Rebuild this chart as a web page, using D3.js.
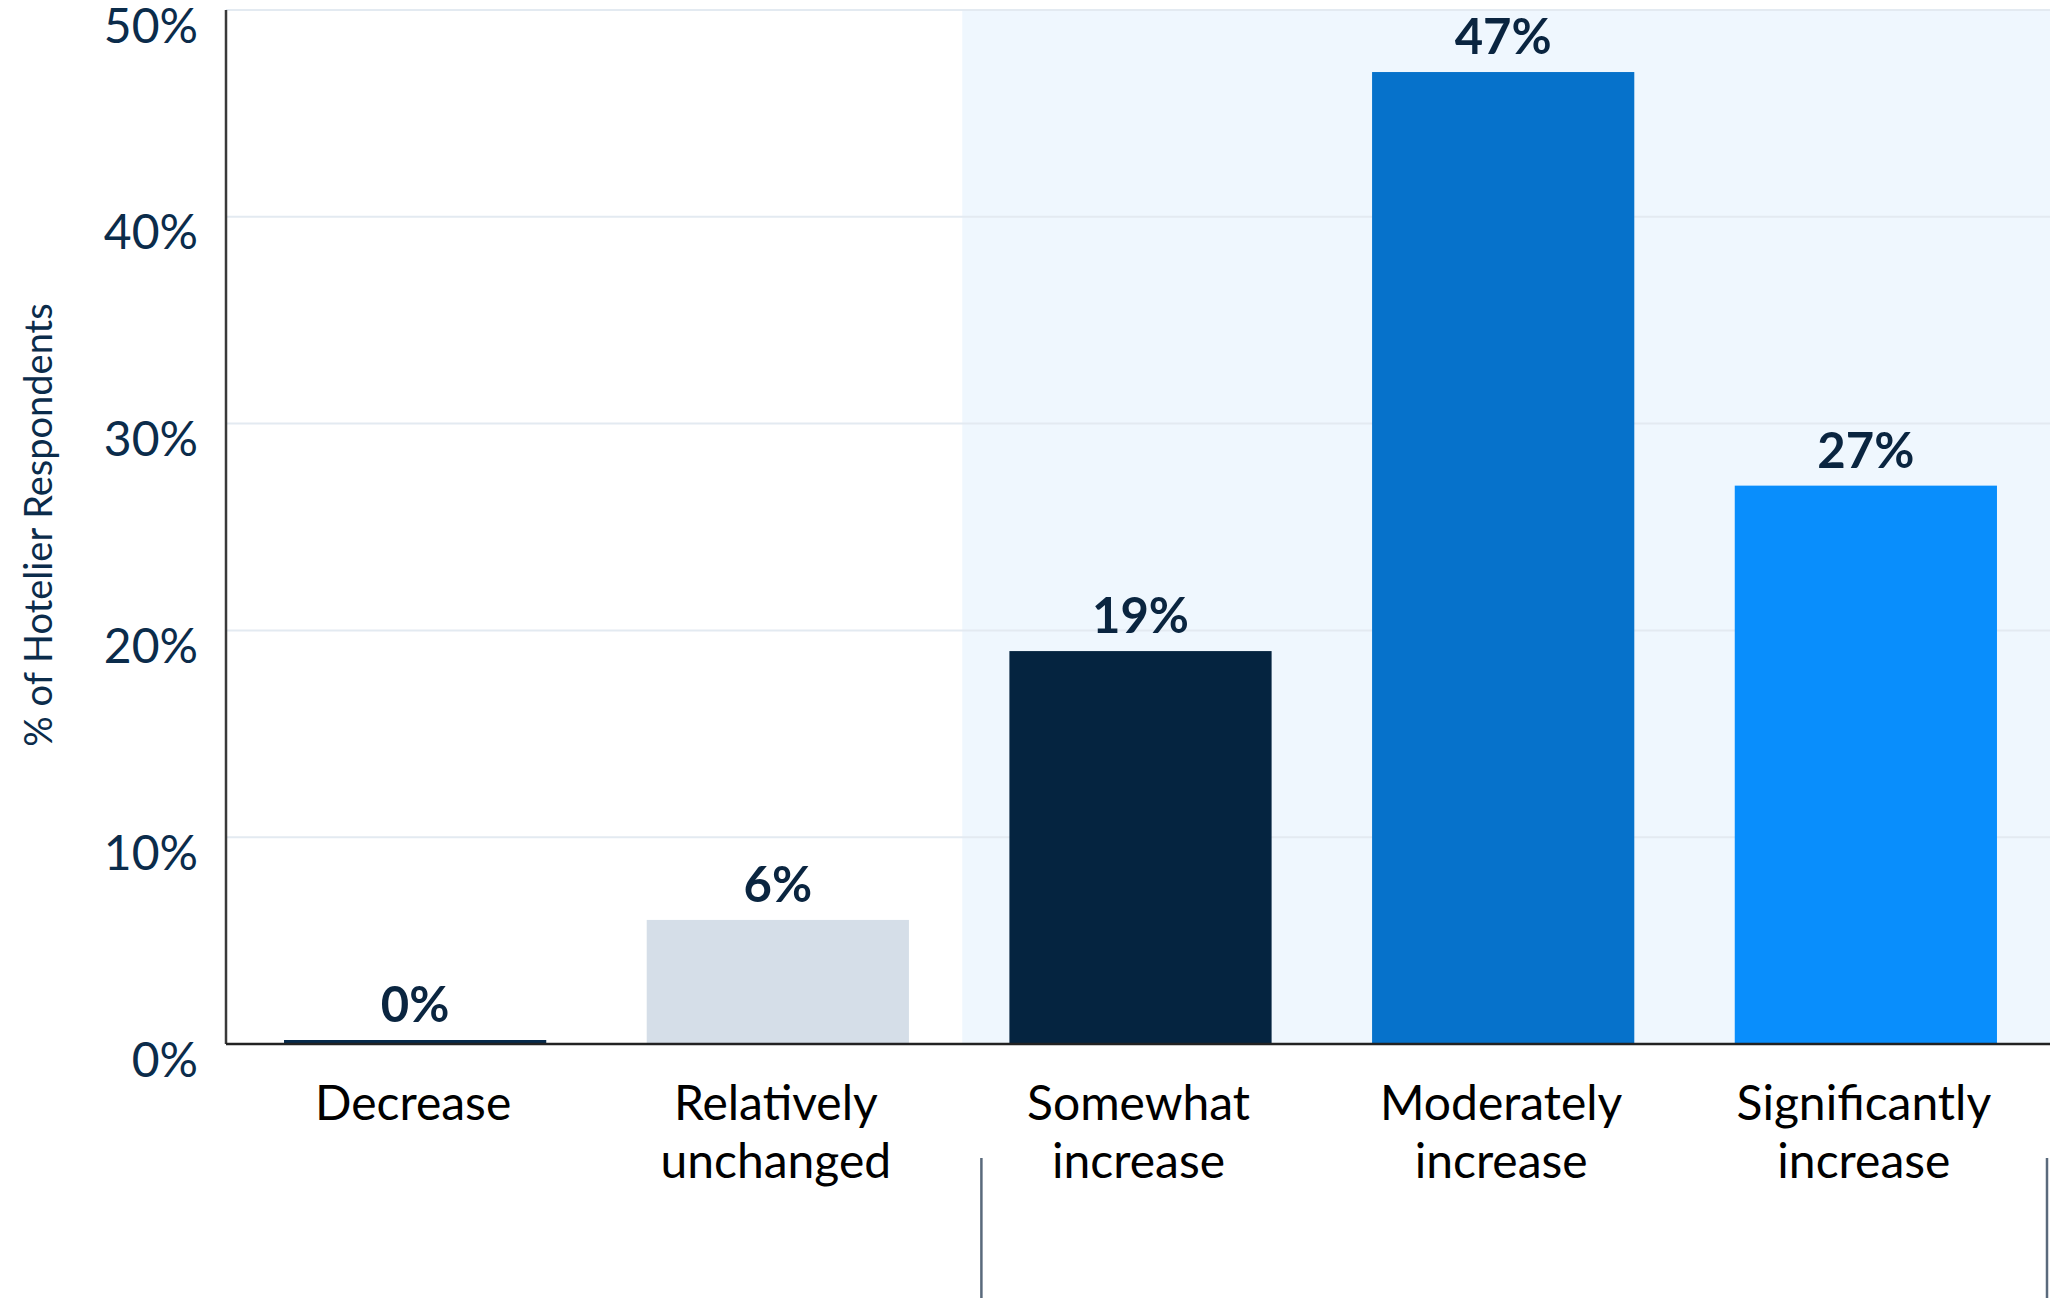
<!DOCTYPE html>
<html>
<head>
<meta charset="utf-8">
<script src="https://cdn.jsdelivr.net/npm/d3@7"></script>
<style>
  html, body { margin: 0; padding: 0; background: #ffffff; }
  svg { display: block; font-family: Lato, "Open Sans", sans-serif; }
</style>
</head>
<body>
<svg id="chart" width="2050" height="1298"></svg>
<script>
// ---- data ----
const categories = [
  ["Decrease"],
  ["Relatively", "unchanged"],
  ["Somewhat", "increase"],
  ["Moderately", "increase"],
  ["Significantly", "increase"]
];
const values = [0, 6, 19, 47, 27];
const barColors = ["#062a4b", "#d5dee8", "#052440", "#0672cb", "#098efc"];
const yTicks = [0, 10, 20, 30, 40, 50];
const yTitle = "% of Hotelier Respondents";
const highlightFrom = 2; // first category of the shaded "increase" group

// ---- layout ----
const W = 2050, H = 1298;
const mLeft = 226, mRight = 2055, mTop = 10, mBottom = 1044;
const svg = d3.select("#chart");

const keys = categories.map(d => d.join(" "));
const x = d3.scaleBand().domain(keys).range([mLeft, mRight])
  .paddingInner(0.277).paddingOuter(0.16);
const y = d3.scaleLinear().domain([0, 50]).range([mBottom, mTop]);

// shaded background for increase group
const hx = x(keys[highlightFrom]) - x.step() * 0.13;
svg.append("rect")
  .attr("x", hx).attr("y", y(50))
  .attr("width", W - hx).attr("height", y(0) - y(50))
  .attr("fill", "#eff7fe");

// gridlines
svg.append("g").selectAll("line")
  .data(yTicks.filter(t => t > 0))
  .join("line")
  .attr("x1", mLeft).attr("x2", W)
  .attr("y1", d => y(d)).attr("y2", d => y(d))
  .attr("stroke", "#e3eaf1").attr("stroke-width", 2);

// bars
svg.append("g").selectAll("rect")
  .data(values)
  .join("rect")
  .attr("x", (d, i) => x(keys[i]))
  .attr("width", x.bandwidth())
  .attr("y", d => Math.min(y(d), y(0) - 4))
  .attr("height", d => Math.max(y(0) - y(d), 4))
  .attr("fill", (d, i) => barColors[i]);

// value labels
svg.append("g").selectAll("text")
  .data(values)
  .join("text")
  .attr("x", (d, i) => x(keys[i]) + x.bandwidth() / 2)
  .attr("y", d => Math.min(y(d), y(0) - 4) - 18)
  .attr("text-anchor", "middle")
  .attr("font-size", 49).attr("font-weight", 700)
  .attr("fill", "#0a2540")
  .text(d => d + "%");

// y axis
const yAxis = d3.axisLeft(y).tickValues(yTicks).tickSize(0).tickPadding(28)
  .tickFormat(d => d + "%");
const gy = svg.append("g").attr("transform", `translate(${mLeft},0)`).call(yAxis);
gy.select(".domain").remove();
gy.selectAll("text")
  .attr("font-family", "Lato, sans-serif")
  .attr("font-size", 48)
  .attr("fill", "#0b2c4b")
  .attr("dy", "0.67em");

// axis lines
svg.append("line")
  .attr("x1", mLeft).attr("x2", mLeft).attr("y1", y(50)).attr("y2", y(0))
  .attr("stroke", "#3a3a3a").attr("stroke-width", 2.5);
svg.append("line")
  .attr("x1", mLeft).attr("x2", W).attr("y1", y(0)).attr("y2", y(0))
  .attr("stroke", "#222222").attr("stroke-width", 2.5);

// category labels
const cat = svg.append("g").selectAll("text")
  .data(categories)
  .join("text")
  .attr("x", (d, i) => x(keys[i]) + x.bandwidth() / 2 - 2)
  .attr("y", 1120)
  .attr("text-anchor", "middle")
  .attr("font-size", 48)
  .attr("fill", "#000000");
cat.selectAll("tspan")
  .data(d => d)
  .join("tspan")
  .attr("x", function () { return d3.select(this.parentNode).attr("x"); })
  .attr("dy", (d, i) => i === 0 ? 0 : 58)
  .text(d => d);

// y title
svg.append("text")
  .attr("transform", `translate(${mLeft - 174},${(y(0) + y(50)) / 2 - 2}) rotate(-90)`)
  .attr("text-anchor", "middle")
  .attr("font-size", 38)
  .attr("fill", "#0b2c4b")
  .text(yTitle);

// bracket lines below the increase group (cut off at bottom)
const bx1 = x(keys[highlightFrom]) - 28;
const bx2 = W - 3;
[bx1, bx2].forEach(bx => {
  svg.append("line")
    .attr("x1", bx).attr("x2", bx).attr("y1", 1158).attr("y2", H)
    .attr("stroke", "#5a6a7c").attr("stroke-width", 2.5);
});
</script>
</body>
</html>
